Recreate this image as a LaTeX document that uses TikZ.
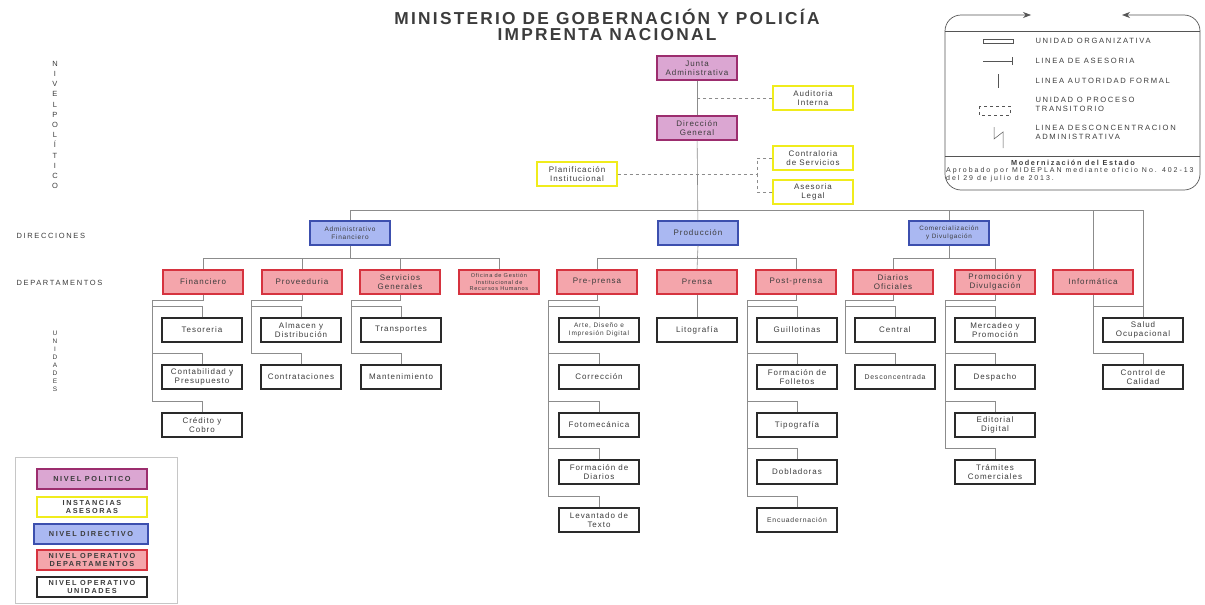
\documentclass[tikz,border=0pt]{standalone}
\usepackage{fontspec}
\setmainfont{Liberation Sans}[LetterSpace=12]
\newfontfamily\capsfont{Liberation Sans}[LetterSpace=22]
\newfontfamily\titlefont{Liberation Sans}[LetterSpace=13]
\newfontfamily\widefont{Liberation Sans}[LetterSpace=28]
\usetikzlibrary{arrows.meta}
\definecolor{polfill}{HTML}{DBA6D2}
\definecolor{polline}{HTML}{9C2D6E}
\definecolor{aseline}{HTML}{F0EC1C}
\definecolor{dirfill}{HTML}{AAB8F2}
\definecolor{dirline}{HTML}{3C4FAE}
\definecolor{depfill}{HTML}{F4A5AB}
\definecolor{depline}{HTML}{D6333F}
\definecolor{uniline}{HTML}{2A2A2A}
\definecolor{txt}{HTML}{3C3C3C}
\definecolor{linegray}{HTML}{8C8C8C}

\begin{document}
\begin{tikzpicture}[x=1pt, y=-1pt,
    box/.style={draw, minimum width=80pt, minimum height=24pt, inner sep=1pt, align=center,
      font=\fontsize{8}{9}\selectfont, text=txt, line width=1.3pt},
    politico/.style={box, fill=polfill, draw=polline},
    asesor/.style={box, fill=white, draw=aseline},
    directivo/.style={box, fill=dirfill, draw=dirline},
    depto/.style={box, fill=depfill, draw=depline},
    unidad/.style={box, fill=white, draw=uniline},
    conn/.style={draw=linegray, line width=0.6pt},
    asesoria/.style={conn, dashed},
    ley/.style={minimum width=110pt, minimum height=20pt, font=\capsfont\bfseries\fontsize{7.3}{8.2}\selectfont},
    nivel/.style={text=txt, font=\capsfont\fontsize{7.5}{8}\selectfont},
    legtext/.style={anchor=west, text=txt, align=left, font=\capsfont\fontsize{7.6}{9}\selectfont}]
  \useasboundingbox (0,0) rectangle (1205,605);

  % title
  \node[text=txt, align=center, font=\titlefont\bfseries\fontsize{17.3}{15.5}\selectfont]
    (TITLE) at (607,25) {MINISTERIO DE GOBERNACIÓN Y POLICÍA\\IMPRENTA NACIONAL};

  % level labels on the left
  \node[nivel, align=center, font=\capsfont\fontsize{7.5}{10.2}\selectfont]
    (NPOL) at (55,125) {N\\I\\V\\E\\L\\P\\O\\L\\Í\\T\\I\\C\\O};
  \node[nivel, anchor=west] (NDIR) at (13,236) {DIRECCIONES};
  \node[nivel, anchor=west] (NDEP) at (13,283) {DEPARTAMENTOS};
  \node[nivel, align=center, font=\capsfont\fontsize{6.5}{8}\selectfont]
    (NUNI) at (55,361) {U\\N\\I\\D\\A\\D\\E\\S};

  % political level and advisers
  \node[politico] (JUNTA) at (697,68) {Junta\\Administrativa};
  \node[asesor] (AUDIT) at (813,98) {Auditoria\\Interna};
  \node[politico] (DIRGEN) at (697,128) {Dirección\\General};
  \node[asesor] (CONTRA) at (813,158) {Contraloria\\de Servicios};
  \node[asesor] (PLANIF) at (577,174) {Planificación\\Institucional};
  \node[asesor] (LEGAL) at (813,192) {Asesoria\\Legal};

  % directions
  \node[directivo, font=\fontsize{6.5}{7.5}\selectfont] (ADMFIN) at (350,233) {Administrativo\\Financiero};
  \node[directivo] (PROD) at (698,233) {Producción};
  \node[directivo, font=\fontsize{6.3}{7.5}\selectfont] (COMER) at (949,233) {Comercialización\\y Divulgación};

  % departments
  \node[depto] (FIN) at (203,282) {Financiero};
  \node[depto] (PROV) at (302,282) {Proveeduria};
  \node[depto] (SERV) at (400,282) {Servicios\\Generales};
  \node[depto, font=\fontsize{5.6}{6.3}\selectfont] (RRHH) at (499,282) {Oficina de Gestión\\Institucional de\\Recursos Humanos};
  \node[depto] (PRE) at (597,282) {Pre-prensa};
  \node[depto] (PRENSA) at (697,282) {Prensa};
  \node[depto] (POST) at (796,282) {Post-prensa};
  \node[depto] (DIARIOS) at (893,282) {Diarios\\Oficiales};
  \node[depto] (PROMO) at (995,282) {Promoción y\\Divulgación};
  \node[depto] (INFO) at (1093,282) {Informática};

  % units
  \node[unidad] (TESO) at (202,330) {Tesoreria};
  \node[unidad] (CONTA) at (202,377) {Contabilidad y\\Presupuesto};
  \node[unidad] (CRED) at (202,425) {Crédito y\\Cobro};
  \node[unidad] (ALMA) at (301,330) {Almacen y\\Distribución};
  \node[unidad] (CONTRAT) at (301,377) {Contrataciones};
  \node[unidad] (TRANS) at (401,330) {Transportes};
  \node[unidad] (MANT) at (401,377) {Mantenimiento};
  \node[unidad, font=\fontsize{6.5}{7.5}\selectfont] (ARTE) at (599,330) {Arte, Diseño e\\Impresión Digital};
  \node[unidad] (CORR) at (599,377) {Corrección};
  \node[unidad] (FOTO) at (599,425) {Fotomecánica};
  \node[unidad] (FDIAR) at (599,472) {Formación de\\Diarios};
  \node[unidad] (LEVANT) at (599,520) {Levantado de\\Texto};
  \node[unidad] (LITO) at (697,330) {Litografía};
  \node[unidad] (GUILL) at (797,330) {Guillotinas};
  \node[unidad] (FFOLL) at (797,377) {Formación de\\Folletos};
  \node[unidad] (TIPO) at (797,425) {Tipografía};
  \node[unidad] (DOBL) at (797,472) {Dobladoras};
  \node[unidad, font=\fontsize{6.8}{7.5}\selectfont] (ENCU) at (797,520) {Encuadernación};
  \node[unidad] (CENT) at (895,330) {Central};
  \node[unidad, font=\fontsize{6.9}{7.5}\selectfont] (DESC) at (895,377) {Desconcentrada};
  \node[unidad] (MERC) at (995,330) {Mercadeo y\\Promoción};
  \node[unidad] (DESP) at (995,377) {Despacho};
  \node[unidad] (EDIT) at (995,425) {Editorial\\Digital};
  \node[unidad] (TRAM) at (995,472) {Trámites\\Comerciales};
  \node[unidad] (SALUD) at (1143,330) {Salud\\Ocupacional};
  \node[unidad] (CALID) at (1143,377) {Control de\\Calidad};

  % authority lines, top
  \draw[conn] (JUNTA) -- (DIRGEN);
  \draw[conn] (DIRGEN) -- (PROD);
  \coordinate (BAREND) at (1143,210);
  \coordinate (ASJ) at (757,174);
  \draw[conn] (ADMFIN.north) |- (BAREND);
  \draw[conn] (COMER.north) -- (COMER.north |- BAREND);
  \draw[conn] (INFO.north) -- (INFO.north |- BAREND);
  \draw[conn] (BAREND) -- ([yshift=11pt]SALUD.north);

  % advisory lines
  \draw[asesoria] (AUDIT.west) -- (AUDIT.west -| JUNTA.south);
  \draw[asesoria] (PLANIF.east) -- (ASJ);
  \draw[asesoria] (CONTRA.west) -| (ASJ);
  \draw[asesoria] (LEGAL.west) -| (ASJ);

  % directions -> departments
  \draw[conn] (FIN.north) -- ++(0,-11) -| (RRHH.north);
  \draw[conn] (PROV.north) -- ++(0,-11);
  \draw[conn] (SERV.north) -- ++(0,-11);
  \draw[conn] (ADMFIN.south) -- ([yshift=11pt]ADMFIN.south |- FIN.north);
  \draw[conn] (PRE.north) -- ++(0,-11) -| (POST.north);
  \draw[conn] (PROD.south) -- (PRENSA.north);
  \draw[conn] (DIARIOS.north) -- ++(0,-11) -| (PROMO.north);
  \draw[conn] (COMER.south) -- ([yshift=11pt]COMER.south |- DIARIOS.north);

  % departments -> units
  \draw[conn] (FIN.south) -- ++(0,6) -| ([xshift=-50pt,yshift=11pt]CRED.north);
  \draw[conn] (TESO.north) -- ++(0,-11) -- ++(-50,0);
  \draw[conn] (CONTA.north) -- ++(0,-11) -- ++(-50,0);
  \draw[conn] (CRED.north) -- ++(0,-11) -- ++(-50,0);
  \draw[conn] (PROV.south) -- ++(0,6) -| ([xshift=-50pt,yshift=11pt]CONTRAT.north);
  \draw[conn] (ALMA.north) -- ++(0,-11) -- ++(-50,0);
  \draw[conn] (CONTRAT.north) -- ++(0,-11) -- ++(-50,0);
  \draw[conn] (SERV.south) -- ++(0,6) -| ([xshift=-50pt,yshift=11pt]MANT.north);
  \draw[conn] (TRANS.north) -- ++(0,-11) -- ++(-50,0);
  \draw[conn] (MANT.north) -- ++(0,-11) -- ++(-50,0);
  \draw[conn] (PRE.south) -- ++(0,6) -| ([xshift=-51pt,yshift=11pt]LEVANT.north);
  \draw[conn] (ARTE.north) -- ++(0,-11) -- ++(-51,0);
  \draw[conn] (CORR.north) -- ++(0,-11) -- ++(-51,0);
  \draw[conn] (FOTO.north) -- ++(0,-11) -- ++(-51,0);
  \draw[conn] (FDIAR.north) -- ++(0,-11) -- ++(-51,0);
  \draw[conn] (LEVANT.north) -- ++(0,-11) -- ++(-51,0);
  \draw[conn] (PRENSA) -- (LITO);
  \draw[conn] (POST.south) -- ++(0,6) -| ([xshift=-50pt,yshift=11pt]ENCU.north);
  \draw[conn] (GUILL.north) -- ++(0,-11) -- ++(-50,0);
  \draw[conn] (FFOLL.north) -- ++(0,-11) -- ++(-50,0);
  \draw[conn] (TIPO.north) -- ++(0,-11) -- ++(-50,0);
  \draw[conn] (DOBL.north) -- ++(0,-11) -- ++(-50,0);
  \draw[conn] (ENCU.north) -- ++(0,-11) -- ++(-50,0);
  \draw[conn] (DIARIOS.south) -- ++(0,6) -| ([xshift=-50pt,yshift=11pt]DESC.north);
  \draw[conn] (CENT.north) -- ++(0,-11) -- ++(-50,0);
  \draw[conn] (DESC.north) -- ++(0,-11) -- ++(-50,0);
  \draw[conn] (PROMO.south) -- ++(0,6) -| ([xshift=-50pt,yshift=11pt]TRAM.north);
  \draw[conn] (MERC.north) -- ++(0,-11) -- ++(-50,0);
  \draw[conn] (DESP.north) -- ++(0,-11) -- ++(-50,0);
  \draw[conn] (EDIT.north) -- ++(0,-11) -- ++(-50,0);
  \draw[conn] (TRAM.north) -- ++(0,-11) -- ++(-50,0);
  \draw[conn] (INFO.south) -- ([xshift=-50pt,yshift=11pt]CALID.north);
  \draw[conn] (SALUD.north) -- ++(0,-11) -- ++(-50,0);
  \draw[conn] (CALID.north) -- ++(0,-11) -- ++(-50,0);

  % legend of lines (top right)
  \draw[uniline!80, line width=0.7pt, rounded corners=16pt, {Stealth[length=8pt,width=6pt]}-{Stealth[length=8pt,width=6pt]}]
    (1031,15) -- (945,15) -- (945,190) -- (1200,190) -- (1200,15) -- (1122,15);
  \draw[uniline!80, line width=0.6pt] (945,31) -- (1200,31);
  \draw[uniline!80, line width=0.6pt] (945,156) -- (1200,156);
  \draw[uniline!80, line width=0.8pt] (983,39) rectangle (1013,43);
  \draw[uniline!80, line width=0.5pt] (983,61) -- (1012,61) (1012,57) -- (1012,65);
  \draw[uniline!80, line width=0.5pt] (998,74) -- (998,88);
  \draw[uniline!80, line width=0.8pt, dashed] (979,106) rectangle (1010,115);
  \draw[uniline!80, line width=0.5pt] (994,127) -- (994,139) -- (1003,132) -- (1003,148);
  \node[legtext] (LUO) at (1032,41) {UNIDAD ORGANIZATIVA};
  \node[legtext] (LLA) at (1032,61) {LINEA DE ASESORIA};
  \node[legtext] (LLF) at (1032,81) {LINEA AUTORIDAD FORMAL};
  \node[legtext] (LUT) at (1032,104) {UNIDAD O PROCESO\\TRANSITORIO};
  \node[legtext] (LLD) at (1032,132) {LINEA DESCONCENTRACION\\ADMINISTRATIVA};
  \node[text=txt, font=\capsfont\bfseries\fontsize{7.3}{8}\selectfont] (MODER) at (1073,163) {Modernización del Estado};
  \node[text=txt, anchor=north west, align=left, inner sep=0pt, font=\widefont\fontsize{7}{8}\selectfont]
    (APROB) at (946,167.5) {Aprobado por MIDEPLAN mediante oficio No. 402-13\\del 29 de julio de 2013.};

  % legend of levels (bottom left)
  \draw[draw=gray!45, line width=0.6pt] (15,457) rectangle (177,603);
  \node[politico, ley] (LPOL) at (92,479) {NIVEL POLITICO};
  \node[asesor, ley, align=center] (LASE) at (92,507) {INSTANCIAS\\ASESORAS};
  \node[directivo, ley, minimum width=114pt] (LDIR) at (91,534) {NIVEL DIRECTIVO};
  \node[depto, ley] (LDEP) at (92,560) {NIVEL OPERATIVO\\DEPARTAMENTOS};
  \node[unidad, ley] (LUNI) at (92,587) {NIVEL OPERATIVO\\UNIDADES};
\end{tikzpicture}
\end{document}
